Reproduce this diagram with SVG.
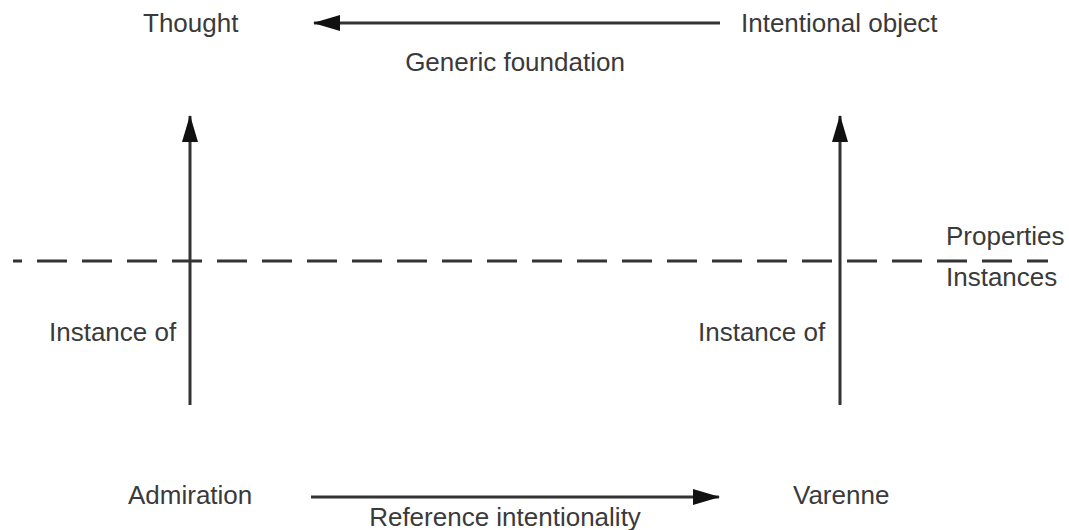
<svg xmlns="http://www.w3.org/2000/svg" width="1069" height="530" viewBox="0 0 1069 530">
<style>
.t{font-family:"Liberation Sans",Arial,sans-serif;font-size:26px;fill:#3a3a3a}
.c{stroke:#333;stroke-width:3;fill:none}
</style>
<defs>
<marker id="ah" markerUnits="userSpaceOnUse" markerWidth="28" markerHeight="18" refX="26" refY="8" orient="auto">
<path d="M0,0 L27,8 L0,16 Z" fill="#111"/>
</marker>
</defs>
<rect width="1069" height="530" fill="#fff"/>
<g id="connectors">
<line class="c" x1="720" y1="23" x2="314" y2="23" marker-end="url(#ah)"/>
<line class="c" x1="190" y1="405" x2="190" y2="116" marker-end="url(#ah)"/>
<line class="c" x1="840" y1="405" x2="840" y2="116" marker-end="url(#ah)"/>
<line class="c" x1="311" y1="497" x2="719" y2="497" marker-end="url(#ah)"/>
<line class="c" x1="13" y1="261" x2="1048" y2="261" stroke-dasharray="30 15" stroke-dashoffset="21"/>
</g>
<g id="thought"><text class="t" x="143" y="32">Thought</text></g>
<g id="intentional-object"><text class="t" x="741" y="32">Intentional object</text></g>
<g id="generic-foundation"><text class="t" x="515" y="71" text-anchor="middle">Generic foundation</text></g>
<g id="properties"><text class="t" x="946" y="245">Properties</text></g>
<g id="instances"><text class="t" x="946" y="286">Instances</text></g>
<g id="instance-of-left"><text class="t" x="49" y="341">Instance of</text></g>
<g id="instance-of-right"><text class="t" x="698" y="341">Instance of</text></g>
<g id="admiration"><text class="t" x="128" y="504">Admiration</text></g>
<g id="varenne"><text class="t" x="793" y="504">Varenne</text></g>
<g id="reference-intentionality"><text class="t" x="505" y="526" text-anchor="middle">Reference intentionality</text></g>
</svg>
